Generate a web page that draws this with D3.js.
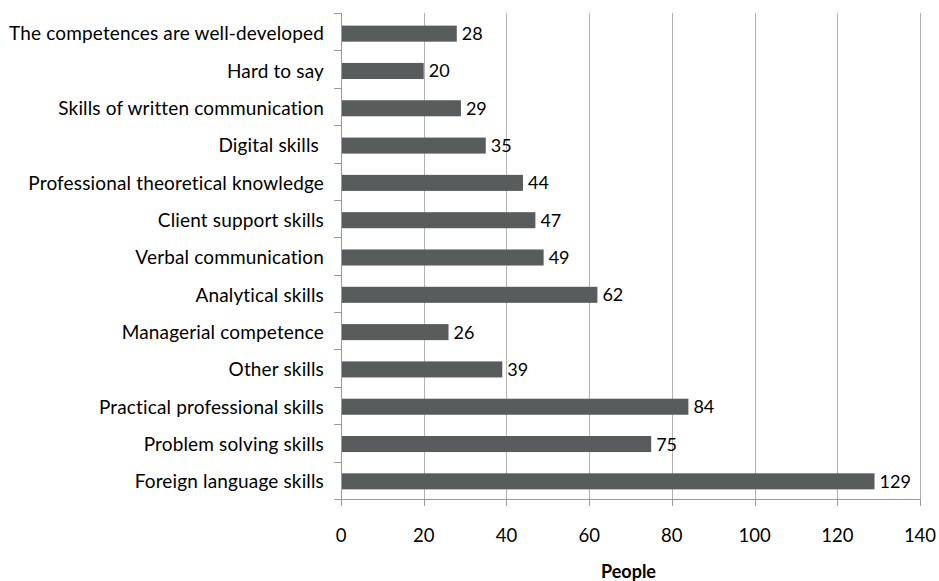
<!DOCTYPE html>
<html>
<head>
<meta charset="utf-8">
<script src="https://cdn.jsdelivr.net/npm/d3@7"></script>
<style>
  html, body { margin: 0; padding: 0; background: #fff; }
  svg text { font-family: Lato, "Open Sans", sans-serif; fill: #000; white-space: pre; }
</style>
</head>
<body>
<svg id="chart" width="939" height="581"></svg>
<script>
// Skills categories, listed top to bottom
const categories = [
  "The competences are well-developed",
  "Hard to say",
  "Skills of written communication",
  "Digital skills ",
  "Professional theoretical knowledge",
  "Client support skills",
  "Verbal communication",
  "Analytical skills",
  "Managerial competence",
  "Other skills",
  "Practical professional skills",
  "Problem solving skills",
  "Foreign language skills"
];
const people = [28, 20, 29, 35, 44, 47, 49, 62, 26, 39, 84, 75, 129];
const xTicks = [0, 20, 40, 60, 80, 100, 120, 140];
const xTitle = "People";

const svg = d3.select("#chart");
const plotLeft = 341, plotRight = 920, plotTop = 13, plotBottom = 499;

const x = d3.scaleLinear().domain([0, 140]).range([plotLeft, plotRight]);
// bands sit a touch below the axis frame
const y = d3.scaleBand().domain(categories).range([plotTop + 2, plotBottom + 1]).paddingInner(0.57).paddingOuter(0.285);

// vertical gridlines
svg.append("g").selectAll("line").data(xTicks.filter(d => d > 0)).join("line")
  .attr("x1", d => Math.round(x(d)) + 0.5).attr("x2", d => Math.round(x(d)) + 0.5)
  .attr("y1", plotTop).attr("y2", plotBottom)
  .attr("stroke", "#b3b3b3").attr("stroke-width", 1);

// bars
svg.append("g").selectAll("rect").data(categories).join("rect")
  .attr("x", x(0) + 1)
  .attr("y", d => y(d))
  .attr("width", (d, i) => x(people[i]) - x(0) - 1)
  .attr("height", y.bandwidth())
  .attr("fill", "#595c5c");

// value labels
svg.append("g").selectAll("text").data(categories).join("text")
  .attr("x", (d, i) => x(people[i]) + 5)
  .attr("y", d => y(d) + y.bandwidth() / 2)
  .attr("dy", "0.36em")
  .attr("font-size", 18)
  .text((d, i) => people[i]);

// category axis
const step = (plotBottom - plotTop) / categories.length;
const yAxis = svg.append("g");
yAxis.append("line")
  .attr("x1", plotLeft + 0.5).attr("x2", plotLeft + 0.5)
  .attr("y1", plotTop).attr("y2", plotBottom)
  .attr("stroke", "#999").attr("stroke-width", 1);
yAxis.selectAll("line.tick").data(d3.range(categories.length + 1)).join("line")
  .attr("class", "tick")
  .attr("x1", plotLeft - 7).attr("x2", plotLeft)
  .attr("y1", i => Math.round(plotTop + i * step) + 0.5)
  .attr("y2", i => Math.round(plotTop + i * step) + 0.5)
  .attr("stroke", "#999");
yAxis.selectAll("text").data(categories).join("text")
  .attr("x", 324)
  .attr("y", d => y(d) + y.bandwidth() / 2)
  .attr("dy", "0.36em")
  .attr("text-anchor", "end")
  .attr("font-size", 19)
  .attr("letter-spacing", 0.15)
  .text(d => d);

// value axis
const xAxis = svg.append("g");
xAxis.append("line")
  .attr("x1", plotLeft).attr("x2", plotRight + 1)
  .attr("y1", plotBottom + 0.5).attr("y2", plotBottom + 0.5)
  .attr("stroke", "#999");
xAxis.selectAll("line.tick").data(xTicks).join("line")
  .attr("class", "tick")
  .attr("x1", d => Math.round(x(d)) + 0.5).attr("x2", d => Math.round(x(d)) + 0.5)
  .attr("y1", plotBottom).attr("y2", plotBottom + 7)
  .attr("stroke", "#999");
xAxis.selectAll("text").data(xTicks).join("text")
  .attr("x", d => x(d))
  .attr("y", 535)
  .attr("dy", "0.36em")
  .attr("text-anchor", "middle")
  .attr("font-size", 18.5)
  .text(d => d);

svg.append("text")
  .attr("x", (plotLeft + plotRight) / 2 - 2)
  .attr("y", 578)
  .attr("text-anchor", "middle")
  .attr("font-size", 18)
  .attr("font-weight", "bold")
  .text(xTitle);
</script>
</body>
</html>
